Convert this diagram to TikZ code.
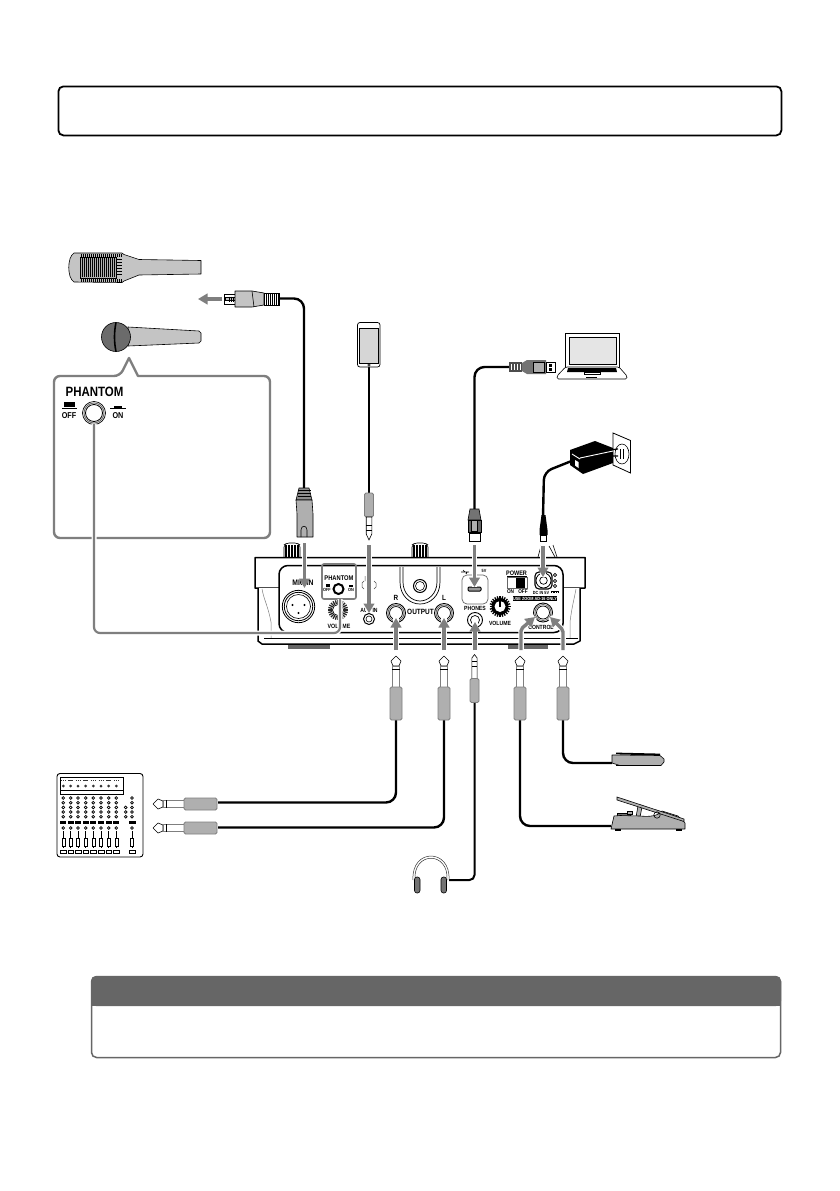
\documentclass[tikz,border=0pt]{standalone}
\usepackage{fontspec}
\setmainfont{Liberation Sans}
\usetikzlibrary{arrows.meta,calc}
\definecolor{arrowgray}{HTML}{7F7F7F}
\definecolor{gripgray}{HTML}{AFAFAF}
\definecolor{bodygray}{HTML}{C4C4C4}
\definecolor{headgray}{HTML}{666666}
\tikzset{
  flow/.style={draw=arrowgray,line width=3.4pt,-{Triangle[width=10.5pt,length=9.5pt]},preaction={draw=white,line width=5.5pt,-}},
  cable/.style={draw=black,line width=2.4pt,rounded corners=10pt},
  thinline/.style={draw=black,line width=.6pt},
  grip/.style={draw=arrowgray,fill=gripgray,line width=.8pt,rounded corners=1.5pt},
  lbl/.style={inner sep=0pt,font=\bfseries\fontsize{6.5}{6.5}\selectfont,xscale=.85},
  tinylbl/.style={inner sep=0pt,font=\bfseries\fontsize{4.5}{4.5}\selectfont,xscale=.85},
}
% big TS/TRS jack: tip at local (0,0), handle towards local +y
\newcommand{\bigplug}[1]{%
  \begin{scope}[#1]
    \draw[thinline,fill=white,line join=round] (0,0)--(5,5)--(3,10)--(-3,10)--(-5,5)--cycle;
    \draw[draw=arrowgray,fill=white,line width=.7pt] (-3.8,10) rectangle (3.8,31);
    \fill[black] (-3.8,12.5) rectangle (3.8,14.2);
    \draw[grip] (-6,31) rectangle (6,64);
  \end{scope}}
\newcommand{\smallplug}[1]{%
  \begin{scope}[#1]
    \draw[thinline,fill=white] (0,0)--(2.6,3.5)--(2.6,24)--(-2.6,24)--(-2.6,3.5)--cycle;
    \fill[black] (-2.6,6) rectangle (2.6,7);
    \fill[black] (-2.6,11) rectangle (2.6,12);
    \draw[grip] (-4.5,24) rectangle (4.5,48);
  \end{scope}}
\begin{document}
\begin{tikzpicture}[x=1pt,y=-1pt]
\useasboundingbox (0,0) rectangle (839,1191);
\fill[white] (0,0) rectangle (839,1191);

% top and bottom frames
\node[draw=black,line width=1.8pt,rounded corners=5pt,minimum width=723pt,minimum height=49pt,inner sep=0pt,anchor=north west] (topbox) at (57.5,85.5) {};
\draw[draw=headgray,line width=1.5pt,rounded corners=5pt,fill=white] (91.5,976.5) rectangle (780.5,1057.5);
\fill[headgray,rounded corners=5pt] (91,976) -- (781,976) -- (781,1006) -- (91,1006) -- cycle;
\fill[headgray] (91,990) rectangle (781,1006);

% ===== condenser mic =====
\draw[thinline,fill=bodygray,line join=round]
  (74,253) -- (122,253) -- (124,254.5) -- (139,259.5) -- (201,260.5) -- (201,274) -- (139,275) -- (124,281) -- (122,282.5) -- (74,282) .. controls (67,278) and (67,257) .. (74,253) -- cycle;
\foreach \gx in {81,83,...,121}{\draw[black,line width=.6pt] (\gx,254) -- (\gx,256.5);\draw[black,line width=.6pt] (\gx,279) -- (\gx,281.5);}
\draw[thinline,fill=gripgray] (80,257) rectangle (116,278);
\foreach \gx in {82,84,...,114}{\draw[black,line width=1pt] (\gx,258) -- (\gx,277);}
\foreach \gy in {259,262,...,274}{\draw[black,line width=.8pt] (117,\gy) -- (122,\gy);}

% ===== dynamic mic =====
\draw[thinline,fill=bodygray] (128,327) -- (199,331) -- (201,333) -- (201,341) -- (199,343) -- (128,346) -- cycle;
\draw[thinline,fill=black!58] (116,337) circle (14.5);
\draw[black,line width=1.6pt] (116,322.5) .. controls (114,332) and (114,342) .. (116,351.5);

% ===== callout =====
\draw[draw=arrowgray,line width=2.4pt,rounded corners=5pt,line join=round,fill=white]
  (120,376) [sharp corners] -- (129,358) -- (138,376) [rounded corners=6pt] -- (270,376) -- (270,538) -- (54,538) -- (54,376) -- cycle;
\node[lbl,font=\bfseries\fontsize{13.5}{13.5}\selectfont] (phtitle) at (94.5,392) {PHANTOM};
\node[lbl,font=\bfseries\fontsize{8.5}{8.5}\selectfont] (phoff) at (69,416) {OFF};
\node[lbl,font=\bfseries\fontsize{8.5}{8.5}\selectfont] (phon) at (118,416) {ON};
\fill[black] (64,402) rectangle (75,407);
\draw[black,line width=.8pt] (62,408.5) -- (77,408.5);
\fill[black] (114,405.5) rectangle (122,408);
\draw[black,line width=.8pt] (110,408.5) -- (126,408.5);
\draw[draw=black,line width=.7pt,fill=white] (94,413) circle (11.5);
\draw[draw=black!60,line width=.8pt] (94,413) circle (10);
\draw[draw=black,line width=.8pt] (94,413) circle (8.5);
\coordinate (phbtn) at (94,424);

% ===== mic cable and plugs =====
\coordinate (xlrh) at (279,298.5);
\coordinate (xlrv) at (304,488);
\draw[cable] (xlrh) -- (304,298.5) -- (xlrv);
\draw[thinline,fill=white] (224,294) rectangle (235,304);
\draw[thinline,fill=black!25] (225,297.5) rectangle (235,300.5);
\foreach \gx in {229,231,233}{\draw[black,line width=.7pt] (\gx,296.5) -- (\gx,301.5);}
\draw[thinline,fill=bodygray,line join=round] (235,291) -- (252,291) -- (264,293) -- (264,305) -- (252,307) -- (235,307) -- cycle;
\draw[thinline] (252,291) -- (254,307);
\draw[thinline,fill=white] (264,293) rectangle (279,305);
\foreach \gx in {266,268,...,278}{\draw[black,line width=1pt] (\gx,293) -- (\gx,305);}
\draw[flow] (222,299) -- (198,299);

\draw[thinline,fill=black!45] (299,488) -- (309,488) -- (312,500) -- (296,500) -- cycle;
\foreach \gy in {490,493,496}{\draw[black,line width=.6pt] (297.5,\gy) -- (310.5,\gy);}
\draw[thinline,fill=gripgray,line join=round] (296,500) -- (312,500) -- (313,514) -- (313,537) -- (297,537) -- (297,514) -- cycle;
\draw[thinline] (301,537) -- (301,530) .. controls (301,525) and (307,525) .. (307,530) -- (307,537);

% ===== phone =====
\coordinate (phonebtm) at (369,367);
\coordinate (auxplug) at (369,493);
\draw[cable,line width=2.8pt] (phonebtm) -- (auxplug);
\draw[draw=black,line width=.7pt,rounded corners=2.5pt,fill=white] (357.5,322.5) rectangle (380,367);
\draw[thinline,fill=bodygray!70] (359.5,328) rectangle (378,363);
\draw[thinline] (369,365) circle (1.3);
\begin{scope}[shift={(369,493)}]
  \draw[grip] (-4.5,0) rectangle (4.5,24);
  \draw[thinline,fill=white] (-2.8,24) -- (2.8,24) -- (2.8,41) -- (0,47) -- (-2.8,41) -- cycle;
  \fill[black] (-2.8,32) rectangle (2.8,33);
  \fill[black] (-2.8,37) rectangle (2.8,38);
\end{scope}

% ===== laptop =====
\draw[draw=black,line width=.9pt,fill=white] (565.5,333.5) rectangle (619,367);
\draw[thinline,fill=black!10] (569,337) rectangle (616,364);
\draw[thinline,fill=white,rounded corners=1.5pt,line join=round] (565.5,367) -- (619,367) -- (627,376) -- (627,379) -- (557,379) -- (557,376) -- cycle;
\fill[black] (568,368) -- (616,368) -- (617,372) -- (567,372) -- cycle;
\draw[thinline] (584,372) rectangle (600,374.5);
\draw[black,line width=1pt] (586,377.5) -- (597,377.5);

% ===== USB cable =====
\coordinate (usbh) at (510,367);
\coordinate (usbv) at (474.5,509);
\draw[cable] (usbh) -- (474.5,367) -- (usbv);
\fill[black!70] (509,362) rectangle (522,372);
\foreach \gx in {511,514,517,520}{\draw[white,line width=.5pt] (\gx,364) -- (\gx,370);}
\fill[black!55] (522,363) -- (527,360) -- (546,360) -- (546,374) -- (527,374) -- (522,371) -- cycle;
\draw[thinline,fill=gripgray] (533,362.5) rectangle (544,372);
\draw[thinline,fill=white] (546,362) rectangle (555,372);
\fill[black] (549,364) rectangle (552,366.5);
\fill[black] (549,368) rectangle (552,370.5);
\draw[thinline,fill=black!55] (470,509) -- (479,509) -- (481,520) -- (468,520) -- cycle;
\fill[black!60,draw=black,line width=.5pt] (468,520) rectangle (481,532);
\draw[thinline,fill=gripgray] (471.5,520.5) rectangle (477.5,531);
\draw[draw=black,line width=1pt,fill=white] (469,532) rectangle (480,541);
\fill[black] (469,532) rectangle (480,534);

% ===== adapter =====
\draw[draw=black,line width=.8pt,fill=white] (613,433) -- (630.5,440.5) -- (630.5,473) -- (613,465) -- cycle;
\draw[thinline] (622,454) ellipse (7 and 10);
\fill[black] (619.6,449) rectangle (621,459);
\fill[black] (623,448.5) rectangle (624.4,458.5);
\draw[black,line width=1.2pt] (609,450) -- (618,449) (610,456) -- (618,456);
\coordinate (adpt) at (574,460);
\coordinate (dcplug) at (543,517);
\draw[cable,line width=2.4pt,rounded corners=8pt] (adpt) -- (544,472) -- (dcplug);
\fill[black,line join=round] (570,450) -- (595,441) -- (613,448) -- (613,463) -- (583,474) -- (570,465) -- cycle;
\draw[white,line width=.9pt] (580,458) -- (613,451) (572,454) -- (580,459);
\fill[white] (575,460) -- (578.5,462) -- (578.5,468) -- (575,465.5) -- cycle;
\fill[black] (541.5,515) -- (545.5,515) -- (547.5,530) -- (547.5,535) -- (539.5,535) -- (539.5,530) -- cycle;
\draw[thinline,fill=white] (540.5,535) rectangle (546,541);

% ===== device body =====
\foreach \kx in {292,420}{
  \draw[draw=black,line width=.6pt,fill=white,rounded corners=2pt] (\kx-8,557) -- (\kx-8,545) -- (\kx-5,543) -- (\kx+5,543) -- (\kx+8,545) -- (\kx+8,557);
  \foreach \d in {-6,-3,0,3,6}{\draw[black,line width=1.1pt] (\kx+\d,545) -- (\kx+\d,557);}
}
\draw[thinline] (538,557) -- (541,546) (549,546) -- (555,557) (553,545) -- (557,557);
\fill[black!60] (288,644) rectangle (330,649);
\fill[black!60] (508,644) rectangle (548,649);
\draw[draw=black,line width=1.5pt,fill=white,line join=round]
  (255,557.5) -- (585,557.5) -- (585,588) -- (580,588) -- (580,641) -- (574,644) -- (262,644) -- (258,641) -- (258,588) -- (255,588) -- cycle;
\draw[black!70,line width=.6pt] (258,587.5) -- (280,587.5) (563,587.5) -- (580,587.5);
\draw[black!50,line width=.5pt] (262,589) .. controls (264,600) and (268,606) .. (271,622) -- (271,638);
\draw[black!50,line width=.5pt] (576,589) .. controls (574,600) and (572,606) .. (570,622) -- (570,638);
\draw[draw=black,line width=1.5pt,fill=white,rounded corners=9pt] (279,565.5) rectangle (563,632.5);
\draw[black,line width=1.3pt] (264,638.5) -- (578,638.5);

% XLR jack
\draw[draw=black,line width=.8pt] (298.5,606.5) circle (16.2);
\draw[draw=black,line width=.8pt] (298.5,606.5) circle (14.2);
\draw[draw=black,line width=.6pt] (298.5,606.5) circle (12);
\fill[black] (292.5,605) circle (1.1);
\fill[black] (304.5,605) circle (1.1);
\fill[black] (298.5,613) circle (1.1);
\node[lbl,font=\bfseries\fontsize{8}{8}\selectfont] (micin) at (303,583) {MIC IN};

% phantom inset on panel
\node[draw=arrowgray,line width=1.6pt,rounded corners=2pt,minimum width=34pt,minimum height=35pt,inner sep=0pt] (phpanel) at (339,581.5) {};
\node[tinylbl,font=\bfseries\fontsize{6.8}{6.8}\selectfont] (phlbl) at (339,578) {PHANTOM};
\draw[draw=black,line width=2pt,fill=white] (338.5,589) circle (5);
\fill[black] (325.5,584) rectangle (329.5,587);
\fill[black] (349,585) rectangle (353,587);
\node[tinylbl] (ph1) at (327,590) {OFF};
\node[tinylbl] (ph2) at (351,590) {ON};

% left volume
\foreach \a in {0,15,...,345}{\draw[black!85,line width=1.3pt] ($(338,610)+(\a:6)$) -- ($(338,610)+(\a:10)$);}
\draw[draw=black,line width=.7pt,fill=white] (338,610) circle (5.5);
\node[tinylbl,font=\bfseries\fontsize{6.2}{6.2}\selectfont] (vol1) at (339,626) {VOLUME};

% aux
\draw[black!70,line width=.5pt] (364,581) -- (362,583) -- (362,587) -- (364,589) (374,581) -- (376,583) -- (376,587) -- (374,589) (365,581) -- (365,576);
\node[tinylbl,font=\bfseries\fontsize{6}{6}\selectfont] (auxin) at (369,610) {AUX IN};
\draw[draw=black,line width=1pt] (369,619) circle (5.5);
\draw[draw=black,line width=.6pt] (369,619) circle (3);

% output
\draw[black,line width=.7pt] (400,567) -- (400,582) .. controls (400,596) and (410,604) .. (420,604) .. controls (430,604) and (440,596) .. (440,582) -- (440,567);
\draw[black,line width=.7pt] (403,567) -- (403,582) .. controls (403,594) and (412,601) .. (420,601) .. controls (428,601) and (437,594) .. (437,582) -- (437,567);
\draw[black,line width=1pt] (420,586) circle (6.5);
\draw[black,line width=.6pt] (420,586) circle (4.5);
\node[lbl,font=\bfseries\fontsize{7.6}{7.6}\selectfont] (out) at (420.5,612) {OUTPUT};
\node[lbl,font=\bfseries\fontsize{7.5}{7.5}\selectfont] (rlbl) at (396,598) {R};
\node[lbl,font=\bfseries\fontsize{7.5}{7.5}\selectfont] (llbl) at (444,598) {L};
\foreach \jx in {396,444}{
  \draw[black,line width=.9pt] (\jx,613) circle (9.5);
  \draw[black!60,line width=.8pt] (\jx,613) circle (8);
  \draw[black,line width=.7pt] (\jx,613) circle (6.5);
}

% USB port
\draw[draw=black!60,line width=.7pt,fill=white,rounded corners=5pt] (462,575) rectangle (488,604);
\draw[draw=black,line width=1pt,fill=black!40,rounded corners=1pt] (468,587) rectangle (481,591);
\draw[black,line width=.7pt] (461,572) -- (469,572) (463,570) -- (465,572) (466,574) -- (467,572);
\node[tinylbl] (fivev) at (484,571) {5V};

% phones
\node[tinylbl,font=\bfseries\fontsize{6}{6}\selectfont] (phones) at (475,608) {PHONES};
\draw[black,line width=.9pt] (475,620) circle (7.5);
\draw[black,line width=.7pt] (475,620) circle (4.5);

% right volume
\foreach \a in {0,15,...,345}{\draw[black,line width=1.3pt] ($(500,606.5)+(\a:7)$) -- ($(500,606.5)+(\a:10.5)$);}
\fill[black] (500,606.5) circle (8.5);
\fill[white] (500,606.5) circle (5.5);
\draw[black,line width=1.6pt] (500,607) -- (500,600);
\node[tinylbl,font=\bfseries\fontsize{6}{6}\selectfont] (vol2) at (500,623) {VOLUME};

% power
\node[lbl,font=\bfseries\fontsize{6.5}{6.5}\selectfont] (power) at (516.5,573) {POWER};
\draw[black,line width=.6pt] (507,576.2) -- (527,576.2);
\draw[draw=black!60,line width=.5pt,fill=white] (507,577) rectangle (527,588);
\fill[black] (516,578) rectangle (525,588);
\node[tinylbl,font=\bfseries\fontsize{5.5}{5.5}\selectfont] (pwon) at (510.5,591.5) {ON};
\node[tinylbl,font=\bfseries\fontsize{5.5}{5.5}\selectfont] (pwoff) at (523,591.5) {OFF};

% DC
\draw[draw=black,line width=1.1pt,rounded corners=4pt] (535,572) rectangle (552,589);
\draw[black,line width=.8pt] (543.5,580.5) circle (7.5);
\draw[black,line width=.7pt] (543.5,580.5) circle (3.8);
\foreach \dy in {575,581,586}{\draw[black,line width=.6pt] (555,\dy) circle (1.6);}
\node[tinylbl] (dcin) at (541,592.5) {DC IN 5V};
\draw[black,line width=.5pt] (551,590.8) -- (559,590.8);
\draw[black,line width=.5pt,dash pattern=on 1pt off .7pt] (551,592.7) -- (559,592.7);
\node[fill=black,text=white,tinylbl,minimum width=48pt,minimum height=5pt,inner sep=0pt] (usezoom) at (535,598.5) {USE ZOOM AD-16 ONLY};

% control
\draw[black,line width=.9pt] (543,612.5) circle (9.5);
\draw[black!60,line width=.8pt] (543,612.5) circle (8);
\draw[black,line width=.7pt] (543,612.5) circle (6.5);
\node[tinylbl,font=\bfseries\fontsize{6}{6}\selectfont] (control) at (541,627) {CONTROL};

% ===== phantom leader =====
\coordinate (phpanelb) at (340,599);
\draw[draw=white,line width=5pt,rounded corners=6pt] (phpanelb) -- (340,633) -- (94,633) -- (phbtn);
\draw[draw=arrowgray,line width=2.2pt,rounded corners=6pt] (phpanelb) -- (340,633) -- (94,633) -- (phbtn);

% ===== arrows into device =====
\coordinate (a1s) at (304.5,543); \coordinate (a1e) at (304.5,588);
\draw[flow] (a1s) -- (a1e);
\coordinate (a2s) at (369,545); \coordinate (a2e) at (369,613);
\draw[flow] (a2s) -- (a2e);
\coordinate (a3s) at (474.5,545); \coordinate (a3e) at (474.5,587);
\draw[flow] (a3s) -- (a3e);
\coordinate (a4s) at (543,546); \coordinate (a4e) at (543,577);
\draw[flow] (a4s) -- (a4e);
\coordinate (a5s) at (396,650); \coordinate (a5e) at (396,618);
\draw[flow] (a5s) -- (a5e);
\coordinate (a6s) at (444,650); \coordinate (a6e) at (444,618);
\draw[flow] (a6s) -- (a6e);
\coordinate (a7s) at (475,650); \coordinate (a7e) at (475,622);
\draw[flow] (a7s) -- (a7e);
\coordinate (a8s) at (521,650); \coordinate (a8e) at (535,617);
\draw[flow,rounded corners=2pt] (a8s) -- (521,629) -- (a8e);
\coordinate (a9s) at (563,650); \coordinate (a9e) at (550,617);
\draw[flow,rounded corners=2pt] (a9s) -- (563,630) -- (a9e);

% ===== output jacks & cables =====
\coordinate (jr) at (396,720);
\coordinate (jl) at (444,720);
\coordinate (jp) at (474.5,702);
\coordinate (jc1) at (520,720);
\coordinate (jc2) at (563,720);
\coordinate (mx1) at (218,802.5);
\coordinate (mx2) at (218,827.5);
\coordinate (hp) at (449,880);
\coordinate (exp) at (611,826);
\coordinate (fs) at (612,763);
\draw[cable] (jr) -- (396,802.5) -- (mx1);
\draw[cable] (jl) -- (444,827.5) -- (mx2);
\draw[cable,line width=2pt,rounded corners=5pt] (jp) -- (474.5,880) -- (hp);
\draw[cable] (jc1) -- (520,826) -- (exp);
\draw[cable] (jc2) -- (563,763) -- (fs);
\bigplug{shift={(396,656)}}
\bigplug{shift={(444,656)}}
\bigplug{shift={(520,656)}}
\bigplug{shift={(563,656)}}
\smallplug{shift={(474.5,654.5)}}
\bigplug{shift={(153,804)},rotate=90}
\bigplug{shift={(153,828)},rotate=90}

% ===== footswitch =====
\draw[thinline,fill=gripgray,line join=round] (612,755) -- (660,755.5) -- (664,759) -- (664,762) -- (661,765.5) -- (620,765.5) -- (612,763) -- cycle;
\draw[black,line width=1.8pt] (616,753.5) -- (660,754.5);
\draw[black,line width=1pt] (616,765.5) -- (661,765.5);

% ===== expression pedal =====
\draw[thinline,fill=black!55] (617,818) rectangle (630,813);
\draw[thinline,fill=gripgray] (627,814) rectangle (632,811);
\draw[thinline,fill=gripgray] (636,817) -- (638,806) -- (642,807) -- (640,817) -- cycle;
\draw[thinline,fill=gripgray,line join=round] (611,829) -- (614,816) -- (620,815.5) -- (640,816) .. controls (650,817) and (658,816) .. (662,811) -- (678,816) -- (685,823) -- (685,829) -- cycle;
\draw[thinline,fill=gripgray] (617,797) -- (684,819) -- (684,821.5) -- (617,800) -- cycle;
\fill[black] (615,829) rectangle (621,831);
\fill[black] (676,829) rectangle (682,831);
\draw[thinline] (657,815) circle (3.2);

% ===== headphones =====
\draw[black!80,line width=.5pt] (413,880) .. controls (411,848) and (451,848) .. (449,880);
\draw[black!80,line width=.5pt] (415,880) .. controls (413,851) and (449,851) .. (447,880);
\draw[draw=black,line width=.6pt,fill=black!55,rounded corners=2.5pt] (414.5,877) rectangle (420,893);
\draw[draw=black,line width=.6pt,fill=black!55,rounded corners=2.5pt] (441,877) rectangle (446.5,893);

% ===== mixer =====
\draw[draw=black,line width=.9pt,rounded corners=3pt,fill=white] (57,773.5) rectangle (143,857);
\draw[black,line width=.9pt] (60.5,777.5) rectangle (123,794);
\draw[black,line width=.9pt] (60.5,790) -- (123,790);
\foreach \mx in {63.3,70.7,78,85.7,93.3,101,108.7,116.3}{
  \draw[black!80,line width=1pt,dash pattern=on 1.5pt off .6pt] (\mx-2.5,780) -- (\mx+2.5,780);
  \fill[black!80] (\mx,786) circle (1.5);
  \foreach \my in {798,802.7,807.4,812,816.7}{\draw[black,line width=.7pt] (\mx,\my) circle (1.4);}
  \fill[black] (\mx-2.9,821) rectangle (\mx+2.9,824);
  \draw[black,line width=.7pt] (\mx,828) circle (1.4);
  \draw[black,line width=.8pt] (\mx,831) -- (\mx,848);
  \draw[black,line width=.6pt,fill=white] (\mx-1.5,838) rectangle (\mx+1.5,846);
  \draw[black,line width=.6pt] (\mx-2.9,850.5) rectangle (\mx+2.9,853.5);
}
\foreach \my in {798,802.7,807.4,812,816.7}{\draw[black,line width=.7pt] (132,\my) circle (1.4);}
\foreach \my in {807.4,812,816.7}{\draw[black,line width=.7pt] (125.7,\my) circle (1.4);}
\fill[black] (129,821) rectangle (135.5,824);
\draw[black,line width=.7pt] (132,828) circle (1.4);
\draw[black,line width=.8pt] (132,831) -- (132,848);
\draw[black,line width=.6pt,fill=white] (130.5,838) rectangle (133.5,846);
\draw[black,line width=.6pt] (129,850.5) rectangle (135.5,853.5);
\end{tikzpicture}
\end{document}
